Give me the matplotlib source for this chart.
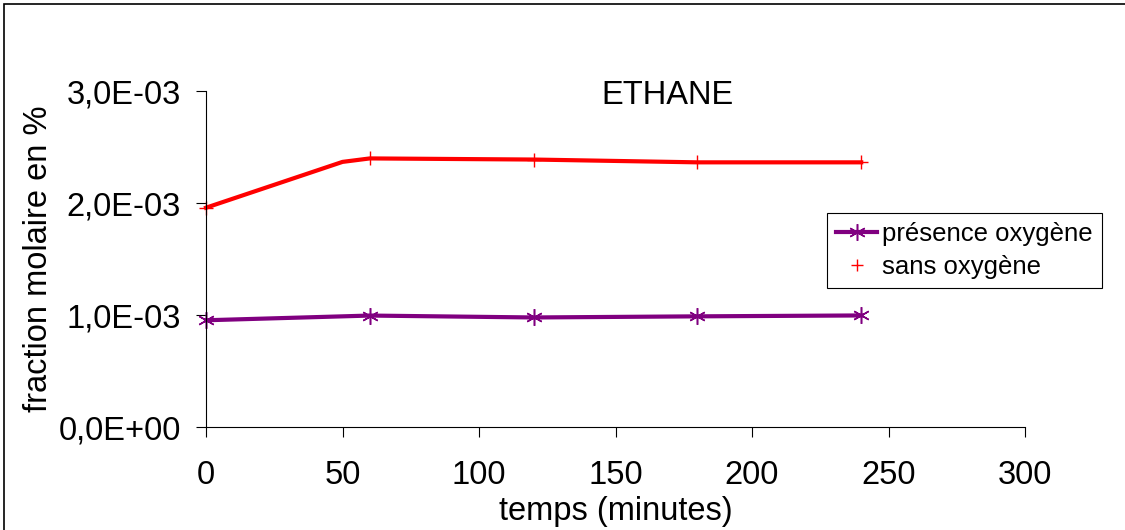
import matplotlib
matplotlib.use("Agg")
import matplotlib.pyplot as plt
from matplotlib.lines import Line2D
from matplotlib.patches import Rectangle

plt.rcParams['font.family'] = ['Liberation Sans', 'DejaVu Sans']

# data (minutes, mole fraction in %)
t_o2 = [0, 60, 120, 180, 240]
y_o2 = [0.953e-3, 0.995e-3, 0.978e-3, 0.988e-3, 0.996e-3]

t_no_o2 = [0, 50, 60, 120, 180, 240]
y_no_o2 = [1.958e-3, 2.367e-3, 2.398e-3, 2.388e-3, 2.363e-3, 2.363e-3]

x_ticks = [0, 50, 100, 150, 200, 250, 300]
y_ticks = [0.0, 1.0e-3, 2.0e-3, 3.0e-3]
y_tick_labels = ["0,0E+00", "1,0E-03", "2,0E-03", "3,0E-03"]

PURPLE = "#800080"
RED = "#FF0000"
FS = 23.5

fig = plt.figure(figsize=(11.25, 5.3), dpi=100)
ax = fig.add_axes([206/1125, 1 - 427/530, (1025 - 206)/1125, (427 - 91)/530])

ax.plot(t_o2, y_o2, color=PURPLE, lw=3, marker=(6, 2, 0), ms=12, mew=1.1,
        mec=PURPLE, clip_on=False)
ax.plot(t_no_o2, y_no_o2, color=RED, lw=3, marker="+", ms=10, mew=1,
        markevery=[0, 2, 3, 4, 5], clip_on=False)

ax.set_xlim(0, 300)
ax.set_ylim(0, 3.0e-3)
ax.set_xticks(x_ticks)
ax.set_yticks(y_ticks)
ax.set_yticklabels(y_tick_labels)
ax.tick_params(direction="out", length=7, width=0.8, labelsize=FS)
ax.tick_params(axis="y", pad=11)
ax.tick_params(axis="x", pad=17)
for s in ["top", "right"]:
    ax.spines[s].set_visible(False)
for s in ["left", "bottom"]:
    ax.spines[s].set_linewidth(0.8)

ax.set_xlabel("temps (minutes)", fontsize=FS)
ax.xaxis.set_label_coords(0.5, -0.205)
ax.set_ylabel("fraction molaire en %", fontsize=FS)
ax.yaxis.set_label_coords(-0.185, 0.5)
fig.text(668/1125, 1 - 95/530, "ETHANE", fontsize=FS, ha="center", va="center")

handles = [
    Line2D([], [], color=PURPLE, lw=3, marker=(6, 2, 0), ms=12, mew=1.1),
    Line2D([], [], color=RED, lw=0, marker="+", ms=8, mew=1),
]
leg = fig.legend(handles, ["présence oxygène", "sans oxygène"],
                 loc="upper left", bbox_to_anchor=(827/1125, 1 - 213/530),
                 fontsize=18.5, frameon=True, fancybox=False, framealpha=1,
                 edgecolor="black", handlelength=1.6, handletextpad=0.2,
                 borderpad=0.35, labelspacing=0.35, borderaxespad=0)
leg.get_frame().set_linewidth(0.8)

# outer chart frame (top and left visible)
fig.patches.append(Rectangle((4/1125, -0.1), 1.2, 1.1 - 4/530,
                             transform=fig.transFigure, fill=False,
                             edgecolor="black", lw=1.2))

fig.savefig("out.png", dpi=100)
